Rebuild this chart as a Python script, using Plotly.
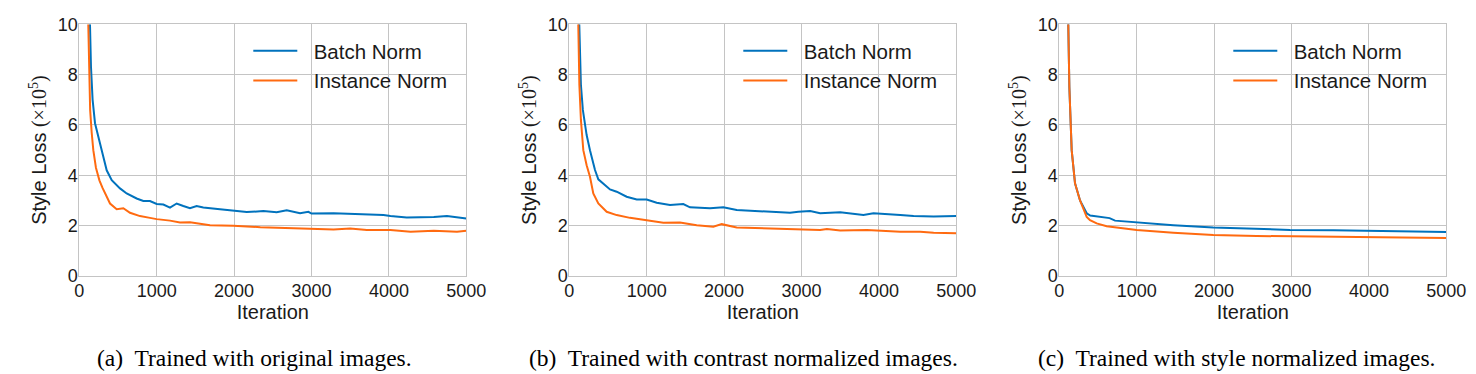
import plotly.graph_objects as go

# ---------------- data (iterations, style loss x1e5) ----------------
# (a) original images
iter_a_bn = [138, 151, 172, 203, 267, 290, 354, 419, 526, 612, 741, 827, 913, 1000, 1086, 1172, 1258,
             1344, 1430, 1516, 1602, 1818, 2033, 2163, 2378, 2550, 2680, 2852, 2960, 3000, 3285, 3500,
             3715, 3930, 4020, 4230, 4580, 4750, 5000]
loss_a_bn = [10.0, 8.3, 7.0, 6.07, 5.27, 5.0, 4.2, 3.81, 3.48, 3.28, 3.08, 2.98, 2.98, 2.86, 2.84, 2.72, 2.88,
             2.78, 2.69, 2.78, 2.72, 2.65, 2.58, 2.54, 2.58, 2.53, 2.61, 2.49, 2.55, 2.48, 2.49, 2.47,
             2.45, 2.42, 2.38, 2.32, 2.34, 2.38, 2.28]
iter_a_in = [116, 127, 140, 160, 181, 215, 260, 300, 333, 397, 483, 569, 655, 784, 913, 1000, 1172, 1301,
             1430, 1560, 1689, 1990, 2339, 2770, 2985, 3285, 3500, 3715, 4020, 4280, 4580, 4880, 5000]
loss_a_in = [10.0, 8.0, 6.6, 5.7, 5.0, 4.3, 3.8, 3.5, 3.28, 2.88, 2.65, 2.69, 2.51, 2.38, 2.31, 2.26, 2.2, 2.13,
             2.14, 2.09, 2.02, 2.0, 1.94, 1.9, 1.87, 1.85, 1.89, 1.83, 1.83, 1.76, 1.8, 1.76, 1.8]

# (b) contrast normalized images
iter_b_bn = [129, 150, 175, 224, 267, 332, 375, 440, 526, 612, 741, 871, 1000, 1129, 1301, 1473, 1559,
             1818, 1990, 2163, 2421, 2593, 2852, 2959, 3112, 3241, 3500, 3800, 3930, 4276, 4448, 4707, 5000]
loss_b_bn = [10.0, 7.6, 6.6, 5.6, 5.0, 4.21, 3.84, 3.68, 3.44, 3.35, 3.15, 3.04, 3.04, 2.91, 2.82, 2.86, 2.73,
             2.69, 2.73, 2.62, 2.59, 2.55, 2.51, 2.55, 2.58, 2.49, 2.53, 2.42, 2.49, 2.42, 2.38, 2.36, 2.38]
iter_b_in = [116, 130, 150, 181, 224, 267, 310, 375, 483, 612, 784, 1000, 1215, 1430, 1646, 1861, 1969,
             2163, 2550, 2959, 3241, 3328, 3500, 3845, 4276, 4534, 4707, 5000]
loss_b_in = [10.0, 7.6, 6.2, 5.0, 4.4, 3.94, 3.28, 2.88, 2.55, 2.42, 2.31, 2.22, 2.12, 2.13, 2.02, 1.96, 2.06,
             1.93, 1.89, 1.83, 1.83, 1.87, 1.81, 1.83, 1.76, 1.76, 1.72, 1.70]

# (c) style normalized images
iter_c_bn = [116, 130, 160, 203, 268, 354, 400, 550, 650, 720, 900, 1000, 1473, 1990, 2550, 2980, 3543,
             4017, 4405, 4700, 5000]
loss_c_bn = [10.0, 7.5, 5.0, 3.68, 3.0, 2.49, 2.4, 2.35, 2.3, 2.2, 2.15, 2.13, 2.02, 1.93, 1.87, 1.83, 1.82,
             1.8, 1.76, 1.76, 1.75]
iter_c_in = [116, 130, 160, 203, 268, 354, 397, 483, 612, 762, 1000, 1473, 1990, 2550, 2980, 3543, 4017,
             4500, 5000]
loss_c_in = [10.0, 7.5, 5.0, 3.68, 3.0, 2.35, 2.22, 2.09, 1.98, 1.92, 1.83, 1.72, 1.63, 1.59, 1.58, 1.56, 1.54,
             1.52, 1.51]

series_names = ["Batch Norm", "Instance Norm"]
captions = ["(a)  Trained with original images.",
            "(b)  Trained with contrast normalized images.",
            "(c)  Trained with style normalized images."]
x_ticks = [0, 1000, 2000, 3000, 4000, 5000]
y_ticks = [0, 2, 4, 6, 8, 10]

# ---------------- styling ----------------
W, H = 1476, 374
BLUE = "#0072BD"
ORANGE = "#FF6A10"
GRID = "#c4c4c4"
SANS = "Liberation Sans, Arial, sans-serif"
SERIF = "Liberation Serif, Times New Roman, serif"
NB = "\u00a0\u00a0"  # small gap between legend line and label

panels = [
    (iter_a_bn, loss_a_bn, iter_a_in, loss_a_in),
    (iter_b_bn, loss_b_bn, iter_b_in, loss_b_in),
    (iter_c_bn, loss_c_bn, iter_c_in, loss_c_in),
]
left_px = [79.3, 569.3, 1059.3]
plot_w = 387.0
top_px, bot_px = 24.3, 276.0
cap_cx = [254, 743, 1236]

fig = go.Figure()
layout = dict(
    width=W, height=H, margin=dict(l=0, r=0, t=0, b=0, autoexpand=False),
    paper_bgcolor="white", plot_bgcolor="white",
    font=dict(family=SANS, color="#1a1a1a", size=18),
    annotations=[],
)

for i, (xb, yb, xi, yi) in enumerate(panels):
    sfx = "" if i == 0 else str(i + 1)
    leg = "legend" if i == 0 else f"legend{i + 1}"
    fig.add_trace(go.Scatter(x=xb, y=yb, mode="lines", name=NB + series_names[0],
                             line=dict(color=BLUE, width=2), xaxis="x" + sfx, yaxis="y" + sfx,
                             legend=leg))
    fig.add_trace(go.Scatter(x=xi, y=yi, mode="lines", name=NB + series_names[1],
                             line=dict(color=ORANGE, width=2), xaxis="x" + sfx, yaxis="y" + sfx,
                             legend=leg))
    x0 = left_px[i] / W
    x1 = (left_px[i] + plot_w) / W
    ax_common = dict(showgrid=True, gridcolor=GRID, gridwidth=1, showline=True, linecolor=GRID,
                     linewidth=1, mirror=True, zeroline=False, ticks="", automargin=False,
                     tickfont=dict(family=SANS, size=18, color="#1a1a1a"))
    layout["xaxis" + sfx] = dict(domain=[x0, x1], range=[0, 5000], tickvals=x_ticks,
                                 anchor="y" + sfx, ticklabelstandoff=-2,
                                 title=dict(text="Iteration", font=dict(family=SANS, size=20), standoff=0),
                                 **ax_common)
    layout["yaxis" + sfx] = dict(domain=[1 - bot_px / H, 1 - top_px / H], range=[0, 10], tickvals=y_ticks,
                                 anchor="x" + sfx, ticklabelstandoff=-3,
                                 title=dict(text="Style Loss <span style='font-family:Liberation Serif'>(×10<sup>5</sup>)</span>",
                                            font=dict(family=SANS, size=20), standoff=5),
                                 **ax_common)
    layout[leg] = dict(x=(left_px[i] + 169) / W, y=1 - 31 / H, xanchor="left", yanchor="top",
                       bgcolor="rgba(0,0,0,0)", font=dict(family=SANS, size=20.5, color="#1a1a1a"),
                       itemwidth=44, tracegroupgap=0)
    layout["annotations"].append(dict(text=captions[i], x=cap_cx[i] / W, y=1 - 358 / H,
                                      xref="paper", yref="paper", showarrow=False,
                                      xanchor="center", yanchor="middle",
                                      font=dict(family=SERIF, size=23.5, color="black")))

fig.update_layout(**layout)
fig.write_html("out.html", config={"displayModeBar": False},
               post_script="document.body.style.margin='0px';document.body.style.overflow='hidden';")
